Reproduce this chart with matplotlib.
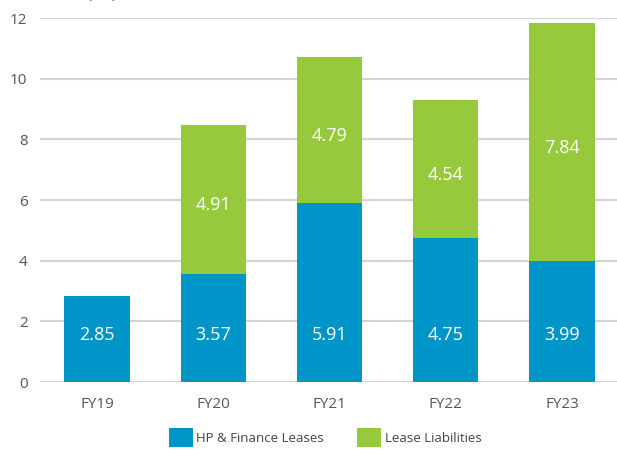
import matplotlib
matplotlib.use("Agg")
import matplotlib.pyplot as plt
import numpy as np

plt.rcParams['font.family'] = ['Open Sans', 'DejaVu Sans']

years = ["FY19", "FY20", "FY21", "FY22", "FY23"]
hp_finance = [2.85, 3.57, 5.91, 4.75, 3.99]
lease_liab = [0.0, 4.91, 4.79, 4.54, 7.84]
yticks = [0, 2, 4, 6, 8, 10, 12]

blue = "#0095c9"
green = "#97c93d"

fig = plt.figure(figsize=(6.17, 4.5), dpi=100)
ax = fig.add_axes([40/617, 1 - 382/450, 577/617, 364/450])

x = np.arange(len(years))
ax.bar(x, hp_finance, width=0.56, color=blue, label="HP & Finance Leases", zorder=3)
ax.bar(x, lease_liab, width=0.56, bottom=hp_finance, color=green,
       label="Lease Liabilities", zorder=3)

# blue labels sit on a common line, green ones near the middle of their segment
for i in range(len(years)):
    ax.text(x[i], 1.55, f"{hp_finance[i]:.2f}", ha="center", va="center",
            color="white", fontsize=13, zorder=4)
    if lease_liab[i] > 0:
        ax.text(x[i], hp_finance[i] + lease_liab[i] / 2 - 0.18, f"{lease_liab[i]:.2f}",
                ha="center", va="center", color="white", fontsize=13, zorder=4)

ax.set_xlim(-0.49, 4.473)
ax.set_ylim(0, 12)
ax.set_yticks(yticks)
ax.set_xticks(x)
ax.set_xticklabels(years)
ax.grid(axis="y", color="#d4d4d4", linewidth=1.5, zorder=0)
ax.tick_params(length=0, labelsize=11, colors="#555555", pad=9)
ax.tick_params(axis="x", pad=11)
for s in ax.spines.values():
    s.set_visible(False)

# title is cut off at the top of the image
fig.text(88/617, 1 + 2/450, "(£m)", ha="left", va="baseline", fontsize=10, color="#555555")

fig.legend(loc="lower center", bbox_to_anchor=(0.527, -0.02), ncol=2, frameon=False,
           fontsize=9.5, handlelength=1.8, handleheight=1.9, columnspacing=2.55,
           handletextpad=0.25, labelcolor="#444444")

fig.savefig("out.png", dpi=100)
